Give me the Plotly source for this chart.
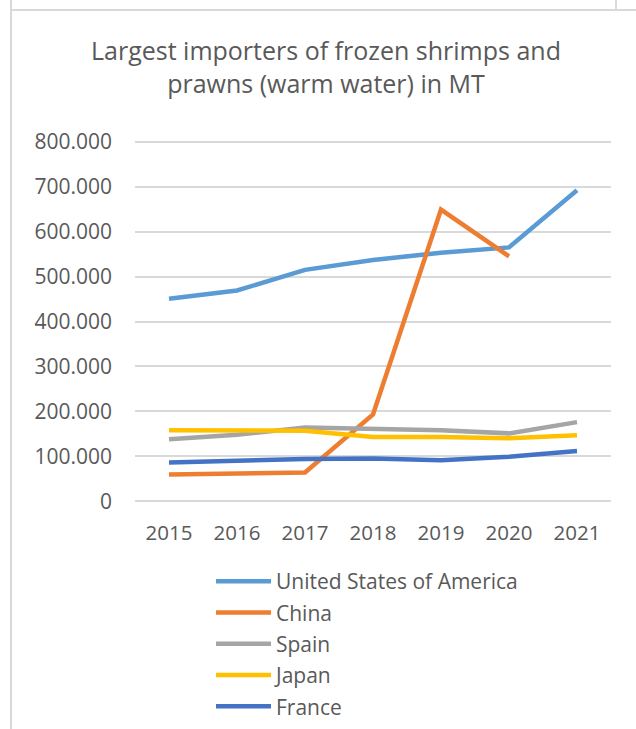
import plotly.graph_objects as go

# Years on the category axis
years = ["2015", "2016", "2017", "2018", "2019", "2020", "2021"]

# Imports of frozen warm-water shrimps and prawns, metric tonnes
usa = [450500, 469000, 515000, 537000, 553000, 565000, 692000]
china = [59500, 62000, 64000, 193000, 649000, 545000, None]
spain = [138000, 148000, 164000, 161000, 158000, 151000, 176000]
japan = [158000, 158000, 157000, 143000, 143000, 140000, 147000]
france = [86000, 90000, 94000, 95000, 91000, 99000, 112000]

series_names = ["United States of America", "China", "Spain", "Japan", "France"]
series_values = [usa, china, spain, japan, france]
series_colors = ["#5B9BD5", "#ED7D31", "#A5A5A5", "#FFC000", "#4472C4"]

y_ticks = [0, 100000, 200000, 300000, 400000, 500000, 600000, 700000, 800000]

TEXT = "#595959"
GRID = "#D9D9D9"
FONT = "Open Sans"

W, H = 636, 729
L, R, T, B = 135, 25, 140, 226
pw, ph = W - L - R, H - T - B
# padding so the 0 and 800.000 gridlines are not clipped at the plot edges
Y_PAD = 4000


def px_x(px):
    return (px - L) / pw


def px_y(py):
    return (H - B - py) / ph


fig = go.Figure()
for i, (name, vals, col) in enumerate(zip(series_names, series_values, series_colors)):
    fig.add_trace(go.Scatter(
        x=years, y=vals, name=name, mode="lines",
        line=dict(color=col, width=4.5),
        legendgroup=f"g{i}",
        hoverinfo="skip",
    ))

# frame lines of the surrounding sheet
frame = [
    (11, 0, 11, H),
    (11, 10, W, 10),
    (616, 0, 616, 9),
]
for x0, y0, x1, y1 in frame:
    fig.add_shape(type="line", xref="paper", yref="paper",
                  x0=px_x(x0), y0=px_y(y0), x1=px_x(x1), y1=px_y(y1),
                  line=dict(color=GRID, width=2), layer="above")

fig.update_layout(
    width=W, height=H,
    margin=dict(l=L, r=R, t=T, b=B, autoexpand=False),
    paper_bgcolor="white", plot_bgcolor="white",
    separators=",.",
    font=dict(family=FONT, color=TEXT),
    title=dict(
        text="Largest importers of frozen shrimps and<br>prawns (warm water) in MT",
        x=326 / W, xref="container", xanchor="center",
        y=1 - 60 / H, yanchor="middle",
        font=dict(family=FONT, size=25, color=TEXT),
    ),
    xaxis=dict(
        type="category", range=[-0.5, 6.5],
        showgrid=False, showline=False, zeroline=False,
        ticks="", tickfont=dict(size=20.5, color=TEXT),
        ticklabelstandoff=15,
        automargin=False,
        fixedrange=True,
    ),
    yaxis=dict(
        range=[-Y_PAD, 800000 + Y_PAD], tickvals=y_ticks, tickformat=",d",
        showgrid=True, gridcolor=GRID, gridwidth=1.5,
        zeroline=False, showline=False, ticks="",
        tickfont=dict(size=21, color=TEXT),
        ticklabelstandoff=22,
        automargin=False,
        fixedrange=True,
    ),
    showlegend=True,
    legend=dict(
        x=px_x(211), xanchor="left",
        y=px_y(561), yanchor="top",
        orientation="v",
        font=dict(family=FONT, size=21, color=TEXT),
        tracegroupgap=1,
        itemwidth=55,
        bgcolor="rgba(0,0,0,0)",
    ),
)

fig.write_html("out.html")
